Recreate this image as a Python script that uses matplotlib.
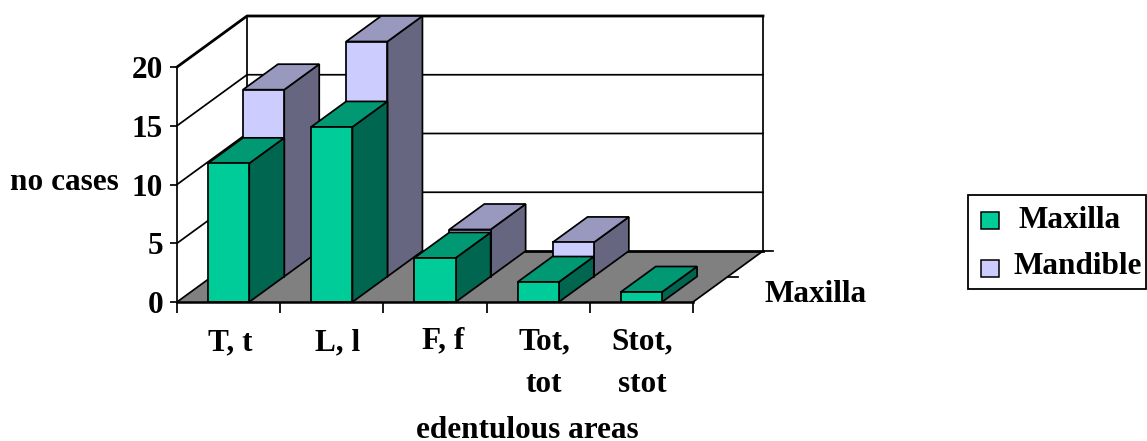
import matplotlib
matplotlib.use("Agg")
import matplotlib.pyplot as plt
from matplotlib.patches import Polygon, Rectangle

categories = ["T, t", "L, l", "F, f", "Tot,\ntot", "Stot,\nstot"]
maxilla = [11.8, 14.9, 3.75, 1.7, 0.85]
mandible = [15.9, 20.0, 4.0, 2.9, 0.0]
y_ticks = [0, 5, 10, 15, 20]

W, H = 1147, 441
FONT = "Liberation Serif"
FS = 22.5
LW = 1.25

fig = plt.figure(figsize=(W / 100, H / 100), dpi=100)
ax = fig.add_axes([177 / W, 1 - 302 / H, (693 - 177) / W, (302 - 67) / H])
ax.set_xlim(0, 5)
ax.set_ylim(0, 20)
ax.patch.set_visible(False)
for s in ax.spines.values():
    s.set_visible(False)

# oblique depth vector, in data units
DX = 70 / 103.2
DY = 51 / 11.75


def pr(x, v, d):
    return (x + DX * d, v + DY * d)


def poly(pts, fc, z, lw=LW, ec="black"):
    ax.add_patch(Polygon(pts, closed=True, fc=fc, ec=ec, lw=lw, zorder=z,
                         clip_on=False, joinstyle="miter"))


def line(pts, z=2, lw=LW, color="black"):
    ax.plot([p[0] for p in pts], [p[1] for p in pts], color=color, lw=lw,
            zorder=z, clip_on=False, solid_capstyle="projecting")


# floor and walls
poly([pr(0, 0, 0), pr(5, 0, 0), pr(5, 0, 1), pr(0, 0, 1)], "#808080", 1, lw=0)
for v in y_ticks[1:]:
    line([pr(0, v, 0), pr(0, v, 1), pr(5, v, 1)], lw=LW if v < 20 else 2.0)
line([pr(0, 0, 0), pr(0, 20, 0)])
line([pr(0, 0, 1), pr(0, 20, 1)])
line([pr(5, 0, 1), pr(5, 20, 1)])
line([pr(0, 0, 1), pr(5, 0, 1)], lw=2.0, z=3)
line([pr(0, 0, 0), pr(0, 0, 1)])
line([pr(5, 0, 0), pr(5, 0, 1)])
line([pr(0, 0, 0), pr(5, 0, 0)], lw=1.8, z=20)
line([pr(5, 0, 1), (pr(5, 0, 1)[0] + 0.1, 0 + DY)])
line([pr(5, 0, 0.5), (pr(5, 0, 0.5)[0] + 0.1, DY / 2)])

BAR_X = 0.3
BAR_W = 0.4


def bar3d(i, value, d0, d1, front, top, side, z):
    if value <= 0:
        return
    x0 = i + BAR_X
    x1 = x0 + BAR_W
    poly([pr(x1, 0, d0), pr(x1, 0, d1), pr(x1, value, d1), pr(x1, value, d0)], side, z)
    poly([pr(x0, value, d0), pr(x1, value, d0), pr(x1, value, d1), pr(x0, value, d1)], top, z)
    poly([pr(x0, 0, d0), pr(x1, 0, d0), pr(x1, value, d0), pr(x0, value, d0)], front, z)


for i, v in enumerate(mandible):
    bar3d(i, v, 0.5, 1.0, "#CCCCFF", "#9999BF", "#666680", 5)
for i, v in enumerate(maxilla):
    bar3d(i, v, 0.0, 0.5, "#00CC99", "#009973", "#006650", 10)

# axes ticks
ax.set_xticks(range(6))
ax.set_xticklabels([])
ax.set_yticks(y_ticks)
ax.set_yticklabels([str(t) for t in y_ticks], fontfamily=FONT, fontweight="bold", fontsize=FS)
ax.tick_params(axis="x", length=8, width=LW, direction="out")
ax.tick_params(axis="y", length=5, width=LW, direction="out", pad=5)


def ftext(x, y, s, ha="center", **kw):
    fig.text(x / W, 1 - y / H, s, ha=ha, va="center", fontfamily=FONT,
             fontweight="bold", fontsize=FS, **kw)


cat_x = [230, 338, 443, 544, 642]
cat_y = [343, 343, 341, 342, 342]
for s, x, y in zip(categories, cat_x, cat_y):
    parts = s.split("\n")
    ftext(x, y, parts[0])
    if len(parts) > 1:
        ftext(x, y + 43, parts[1])

ftext(64, 183, "no cases")
ftext(527, 431, "edentulous areas")
ftext(816, 294, "Maxilla")

# legend
fig.add_artist(Rectangle((968 / W, 1 - 289 / H), 178 / W, 94 / H, transform=fig.transFigure,
                         fc="white", ec="black", lw=1.3))
fig.add_artist(Rectangle((981 / W, 1 - 229 / H), 18 / W, 17 / H, transform=fig.transFigure,
                         fc="#00CC99", ec="black", lw=1.1))
fig.add_artist(Rectangle((981 / W, 1 - 277 / H), 18 / W, 17 / H, transform=fig.transFigure,
                         fc="#CCCCFF", ec="black", lw=1.1))
ftext(1070, 221, "Maxilla")
ftext(1078, 266, "Mandible")

fig.savefig("out.png", dpi=100)
